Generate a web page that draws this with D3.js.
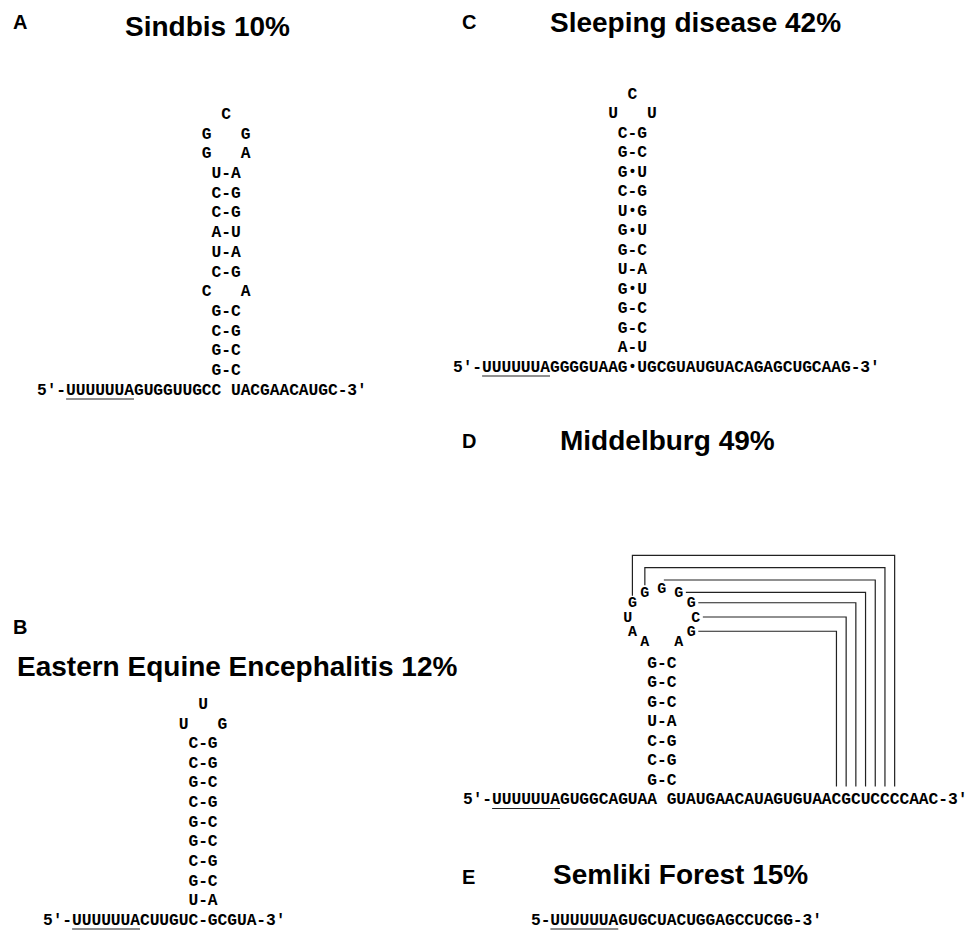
<!DOCTYPE html>
<meta charset="utf-8">
<style>
body { margin: 0; background: #fff; }
.title { font-family: "Liberation Sans", Arial, Helvetica, sans-serif; font-weight: bold; font-size: 28px; fill: #000; }
.plabel { font-family: "Liberation Sans", Arial, Helvetica, sans-serif; font-weight: bold; font-size: 20px; fill: #000; }
.nt { font-family: "Liberation Mono", "Courier New", monospace; font-weight: bold; font-size: 16.3px; fill: #000; text-anchor: middle; }
.nt.loop { font-size: 15px; }
.nt.dot { font-size: 14px; }
.uline, .knot { stroke: #222; stroke-width: 1.2px; fill: none; }
</style>
<body>
<svg width="969" height="931"></svg>
<script src="https://cdn.jsdelivr.net/npm/d3@7"></script>
<script>

// ---- data ----
var panelLabels = ["A", "B", "C", "D", "E"];
var panelTitles = ["Sindbis 10%", "Eastern Equine Encephalitis 12%", "Sleeping disease 42%", "Middelburg 49%", "Semliki Forest 15%"];

// stem rows, read top (loop) to bottom; "X-Y" pair, "X•Y" wobble, "X Y" unpaired, single = apex
var sindbisStem = ["C", "G G", "G A", "U-A", "C-G", "C-G", "A-U", "U-A", "C-G", "C A", "G-C", "C-G", "G-C", "G-C"];
var eeeStem = ["U", "U G", "C-G", "C-G", "G-C", "C-G", "G-C", "G-C", "C-G", "G-C", "U-A"];
var sleepingStem = ["C", "U U", "C-G", "G-C", "G•U", "C-G", "U•G", "G•U", "G-C", "U-A", "G•U", "G-C", "G-C", "A-U"];
var middelburgStem = ["G-C", "G-C", "G-C", "U-A", "C-G", "C-G", "G-C"];
var middelburgLoop = ["A", "A", "U", "G", "G", "G", "G", "G", "C", "G", "A"];

var sindbisSeq = "5′-UUUUUUAGUGGUUGCC UACGAACAUGC-3′";
var eeeSeq = "5′-UUUUUUACUUGUC-GCGUA-3′";
var sleepingSeq = "5′-UUUUUUAGGGGUAAG•UGCGUAUGUACAGAGCUGCAAG-3′";
var middelburgSeq = "5′-UUUUUUAGUGGCAGUAA GUAUGAACAUAGUGUAACGCUCCCCAAC-3′";
var semlikiSeq = "5-UUUUUUAGUGCUACUGGAGCCUCGG-3′";

// index in the sequence where the stem sits, and underlined U-tract
var stemBase = [19, 16, 18, 20, null];
var uTract = [[3, 10], [3, 10], [3, 10], [3, 10], [2, 9]];

// Middelburg pseudoknot: loop position -> sequence position
var knotLoop = [3, 4, 5, 6, 7, 8, 9];
var knotSeq = [44, 43, 42, 41, 40, 39, 38];

// ---- layout ----
var charW = 9.7;
var layout = [
  {lx: 13, ly: 29, tx: 125, ty: 36, sx: 37, seqY: 390, topY: 114},
  {lx: 13, ly: 634, tx: 17, ty: 676, sx: 43, seqY: 920, topY: 704},
  {lx: 462, ly: 29, tx: 550, ty: 32, sx: 453, seqY: 367, topY: 94},
  {lx: 462, ly: 448, tx: 560, ty: 450, sx: 463, seqY: 799.5, topY: 663},
  {lx: 462, ly: 884, tx: 553, ty: 884, sx: 531, seqY: 920, topY: null}
];
var stems = [sindbisStem, eeeStem, sleepingStem, middelburgStem, null];
var seqs = [sindbisSeq, eeeSeq, sleepingSeq, middelburgSeq, semlikiSeq];

var svg = d3.select("svg");
svg.append("rect").attr("width", 969).attr("height", 931).attr("fill", "#fff");

function putChar(g, ch, x, y, cls) {
  g.append("text").attr("class", "nt" + (cls ? " " + cls : (ch === "•" ? " dot" : "")))
    .attr("x", x).attr("y", y).attr("dy", "0.3em")
    .text(ch);
}

panelLabels.forEach(function(lab, p) {
  var L = layout[p];
  var g = svg.append("g").attr("class", "panel-" + lab);

  g.append("text").attr("class", "plabel").attr("x", L.lx).attr("y", L.ly).text(lab);
  g.append("text").attr("class", "title").attr("x", L.tx).attr("y", L.ty).text(panelTitles[p]);

  var seq = seqs[p];
  var x = d3.scaleLinear().domain([0, 1]).range([L.sx, L.sx + charW]);
  var cx = function(i) { return x(i + 0.5); };

  // sequence line
  seq.split("").forEach(function(ch, i) { putChar(g, ch, cx(i), L.seqY); });
  g.append("line").attr("class", "uline")
    .attr("x1", x(uTract[p][0])).attr("x2", x(uTract[p][1]))
    .attr("y1", L.seqY + 9).attr("y2", L.seqY + 9);

  var rows = stems[p];
  if (!rows) return;

  var y = d3.scaleLinear().domain([0, rows.length]).range([L.topY, L.seqY]);
  var mid = cx(stemBase[p]);

  rows.forEach(function(r, i) {
    var yy = y(i);
    if (r.length === 1) {
      putChar(g, r, mid, yy);
    } else if (r[1] === " ") {
      putChar(g, r[0], mid - 2 * charW, yy);
      putChar(g, r[2], mid + 2 * charW, yy);
    } else {
      putChar(g, r[0], mid - charW, yy);
      putChar(g, r[1], mid, yy);
      putChar(g, r[2], mid + charW, yy);
    }
  });

  if (p !== 3) return;

  // Middelburg hairpin loop, laid on an ellipse above the stem
  var ang = d3.scaleLinear().domain([0, middelburgLoop.length - 1]).range([-150, 150]);
  var loopCy = 617, rx = 34, ry = 28.5;
  var pos = middelburgLoop.map(function(ch, i) {
    var a = ang(i) * Math.PI / 180;
    return [mid + rx * Math.sin(a), loopCy - ry * Math.cos(a)];
  });
  middelburgLoop.forEach(function(ch, i) { putChar(g, ch, pos[i][0], pos[i][1], "loop"); });

  // pseudoknot connectors
  var seqTop = L.seqY - 13;
  var gapStep = 12.3;
  knotLoop.forEach(function(li, k) {
    var px = pos[li][0], py = pos[li][1];
    var sx = cx(knotSeq[k]);
    var d;
    if (li >= 6) {
      d = "M" + (px + 7) + "," + py + "H" + sx + "V" + seqTop;
    } else {
      var level = pos[6][1] - (6 - li) * gapStep;
      if (li === 5) d = "M" + (px + 2) + "," + level + "H" + sx + "V" + seqTop;
      else d = "M" + px + "," + (py - 7) + "V" + level + "H" + sx + "V" + seqTop;
    }
    g.append("path").attr("class", "knot").attr("d", d);
  });
});

</script>
</body>
